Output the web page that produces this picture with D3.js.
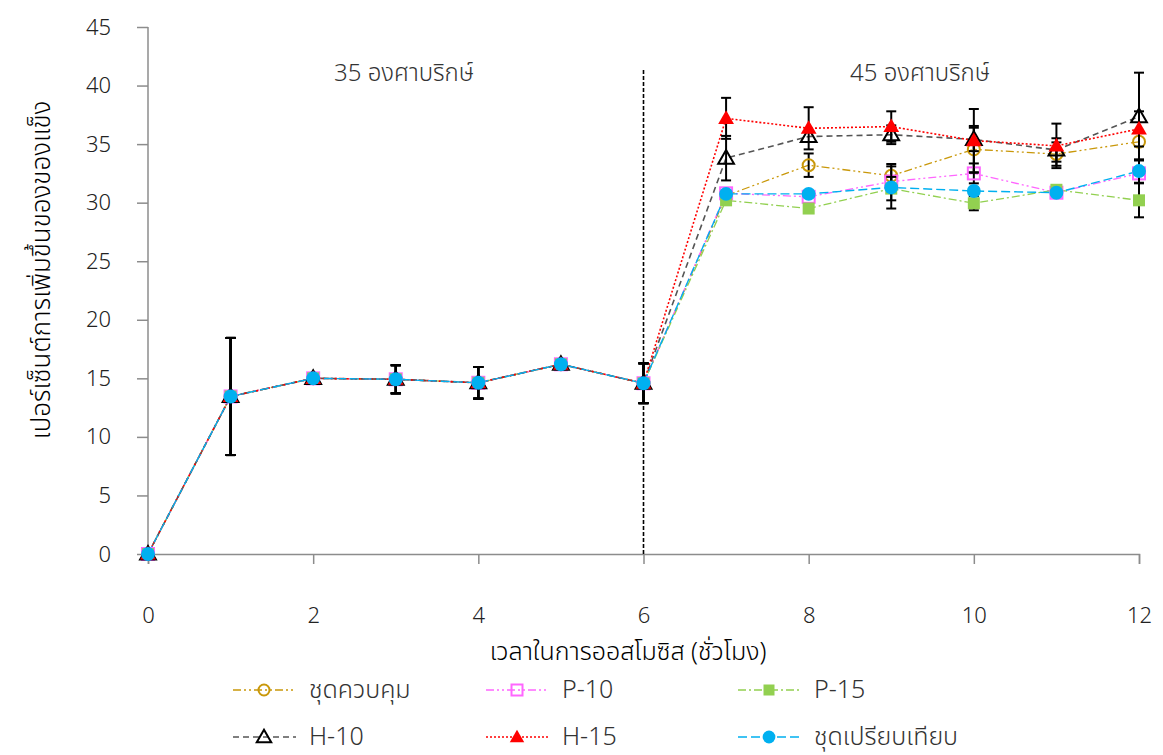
<!DOCTYPE html>
<html>
<head>
<meta charset="utf-8">
<script src="https://cdn.jsdelivr.net/npm/d3@7/dist/d3.min.js"></script>
<style>
  body { margin: 0; background: #fff; }
  text { font-family: "Noto Sans Thai", "Tahoma", "DejaVu Sans", "Noto Sans", sans-serif; font-weight: 300; }
</style>
</head>
<body>
<div id="chart"></div>
<script>
// hours of osmosis
var hours = [0, 1, 2, 3, 4, 5, 6, 7, 8, 9, 10, 11, 12];
var xTicks = [0, 2, 4, 6, 8, 10, 12];
var yTicks = [0, 5, 10, 15, 20, 25, 30, 35, 40, 45];

// first 6 hours (35 C) are shared by every treatment
var baseVals = [0, 13.45, 15.0, 14.92, 14.62, 16.2, 14.58];
var baseErr  = [0, 5.0, 0.2, 1.2, 1.35, 0.2, 1.7];

// hours 7-12 (45 C)
var controlVals = [30.6, 33.2, 32.3, 34.55, 34.15, 35.2];
var controlErr  = [0, 1.0, 1.0, 2.0, 1.0, 0];
var p10Vals = [30.8, 30.5, 31.8, 32.5, 30.85, 32.5];
var p10Err  = [0, 0, 0, 0.85, 0, 0];
var p15Vals = [30.2, 29.5, 31.2, 29.95, 31.1, 30.2];
var p15Err  = [0, 0, 1.0, 0.6, 0, 1.45];
var h10Vals = [33.8, 35.65, 35.8, 35.4, 34.5, 37.35];
var h10Err  = [1.9, 0, 0.8, 1.0, 1.0, 3.75];
var h15Vals = [37.2, 36.35, 36.5, 35.3, 34.85, 36.3];
var h15Err  = [1.75, 1.8, 1.3, 2.7, 1.9, 1.5];
var compVals = [30.75, 30.75, 31.3, 31.0, 30.85, 32.7];
var compErr  = [0, 0, 1.8, 0, 0, 1.0];

var seriesNames = ["ชุดควบคุม", "P-10", "P-15", "H-10", "H-15", "ชุดเปรียบเทียบ"];

var series = [
  { name: seriesNames[0], vals: controlVals, err: controlErr, color: "#C9980A", dash: "8,3,2,3,2,3", marker: "circle", fill: "none", width: 1.3 },
  { name: seriesNames[1], vals: p10Vals, err: p10Err, color: "#FF66FF", dash: "8,3,2,3,2,3", marker: "square", fill: "none", width: 1.3 },
  { name: seriesNames[2], vals: p15Vals, err: p15Err, color: "#92D050", dash: "8,3,2,3", marker: "square", fill: "#92D050", width: 1.3 },
  { name: seriesNames[3], vals: h10Vals, err: h10Err, color: "#555555", dash: "6,4", marker: "triangle", fill: "none", mcolor: "#000", width: 1.6 },
  { name: seriesNames[4], vals: h15Vals, err: h15Err, color: "#FF0000", dash: "2,2", marker: "triangle", fill: "#FF0000", width: 1.6 },
  { name: seriesNames[5], vals: compVals, err: compErr, color: "#00B0F0", dash: "9,4", marker: "circle", fill: "#00B0F0", width: 1.4 }
];
series.forEach(function(s) {
  s.data = hours.map(function(h, i) {
    var v = i < baseVals.length ? baseVals[i] : s.vals[i - baseVals.length];
    var e = i < baseErr.length ? baseErr[i] : s.err[i - baseErr.length];
    return { x: h, y: v, e: e };
  });
});

var W = 1163, H = 755;
var svg = d3.select("#chart").append("svg")
  .attr("width", W)
  .attr("height", H);

var x = d3.scaleLinear().domain([0, 12]).range([148, 1139]);
var y = d3.scaleLinear().domain([0, 45]).range([554, 27]);

// axes
var yAxis = svg.append("g")
  .attr("transform", "translate(148,0)")
  .call(d3.axisLeft(y).tickValues(yTicks).tickSize(11).tickPadding(26));
var xAxis = svg.append("g")
  .attr("transform", "translate(0,554)")
  .call(d3.axisBottom(x).tickValues(xTicks).tickSize(10).tickPadding(43));
[xAxis, yAxis].forEach(function(a) {
  a.select(".domain").attr("stroke", "#8c8c8c").attr("stroke-width", 1.5);
  a.selectAll(".tick line").attr("stroke", "#8c8c8c").attr("stroke-width", 1.5);
  a.selectAll(".tick text")
    .style("font-size", "22px")
    .style("font-family", "Noto Sans Thai, Noto Sans, sans-serif")
    .style("font-weight", "300")
    .attr("fill", "#222");
});
yAxis.select(".domain").attr("d", "M0,554V27");

// temperature divider at hour 6
svg.append("line")
  .attr("x1", x(6)).attr("x2", x(6))
  .attr("y1", 70).attr("y2", y(0))
  .attr("stroke", "#000")
  .attr("stroke-width", 1.6)
  .attr("stroke-dasharray", "4,2");

svg.append("text")
  .attr("x", 404).attr("y", 81)
  .attr("text-anchor", "middle")
  .style("font-size", "24px").attr("fill", "#333")
  .text("35 องศาบริกษ์");
svg.append("text")
  .attr("x", 920).attr("y", 81)
  .attr("text-anchor", "middle")
  .style("font-size", "24px").attr("fill", "#333")
  .text("45 องศาบริกษ์");

// axis titles
svg.append("text")
  .attr("x", 628).attr("y", 660)
  .attr("text-anchor", "middle")
  .style("font-size", "25px").attr("fill", "#000")
  .text("เวลาในการออสโมซิส (ชั่วโมง)");
svg.append("text")
  .attr("transform", "translate(50,270) rotate(-90)")
  .attr("text-anchor", "middle")
  .style("font-size", "26px").attr("fill", "#000")
  .text("เปอร์เซ็นต์การเพิ่มขึ้นของของแข็ง");

// series lines
var line = d3.line().x(function(d) { return x(d.x); }).y(function(d) { return y(d.y); });
svg.selectAll(".series")
  .data(series)
  .enter()
  .append("path")
    .attr("class", "series")
    .attr("d", function(s) { return line(s.data); })
    .attr("fill", "none")
    .attr("stroke", function(s) { return s.color; })
    .attr("stroke-width", function(s) { return s.width; })
    .attr("stroke-dasharray", function(s) { return s.dash; });

function drawMarker(g, s, cx, cy, size) {
  var stroke = s.mcolor || s.color;
  if (s.marker == "circle") {
    var r = s.fill == "none" ? size * 0.5 : size * 0.58;
    g.append("circle").attr("cx", cx).attr("cy", cy).attr("r", r)
      .attr("fill", s.fill).attr("stroke", stroke).attr("stroke-width", s.fill == "none" ? 2 : 0);
  } else if (s.marker == "square") {
    g.append("rect").attr("x", cx - size / 2).attr("y", cy - size / 2)
      .attr("width", size).attr("height", size)
      .attr("fill", s.fill).attr("stroke", stroke).attr("stroke-width", s.fill == "none" ? 2 : 0);
  } else {
    var t = d3.symbol().type(d3.symbolTriangle).size(size * size * 0.75);
    g.append("path").attr("d", t()).attr("transform", "translate(" + cx + "," + (cy + 1) + ")")
      .attr("fill", s.fill).attr("stroke", stroke).attr("stroke-width", s.fill == "none" ? 2 : 0);
  }
}

// error bars + markers, series by series
series.forEach(function(s) {
  var g = svg.append("g");
  s.data.forEach(function(d) {
    if (d.e > 0) {
      g.append("line")
        .attr("x1", x(d.x)).attr("x2", x(d.x))
        .attr("y1", y(d.y - d.e)).attr("y2", y(d.y + d.e))
        .attr("stroke", "#000").attr("stroke-width", 2);
      [d.y - d.e, d.y + d.e].forEach(function(v) {
        g.append("line")
          .attr("x1", x(d.x) - 5).attr("x2", x(d.x) + 5)
          .attr("y1", y(v)).attr("y2", y(v))
          .attr("stroke", "#000").attr("stroke-width", 2);
      });
    }
  });
  s.data.forEach(function(d) {
    drawMarker(g, s, x(d.x), y(d.y), 12);
  });
});

// legend
var legX = [233, 486, 738];
var legY = [690, 737];
series.forEach(function(s, i) {
  var lx = legX[i % 3], ly = legY[Math.floor(i / 3)];
  var g = svg.append("g");
  g.append("line")
    .attr("x1", lx).attr("x2", lx + 63)
    .attr("y1", ly).attr("y2", ly)
    .attr("stroke", s.color).attr("stroke-width", s.width)
    .attr("stroke-dasharray", s.dash);
  drawMarker(g, s, lx + 31, ly, 11);
  g.append("text")
    .attr("x", lx + 76).attr("y", ly + 8)
    .style("font-size", "25px").attr("fill", "#333")
    .text(s.name);
});
</script>
</body>
</html>
